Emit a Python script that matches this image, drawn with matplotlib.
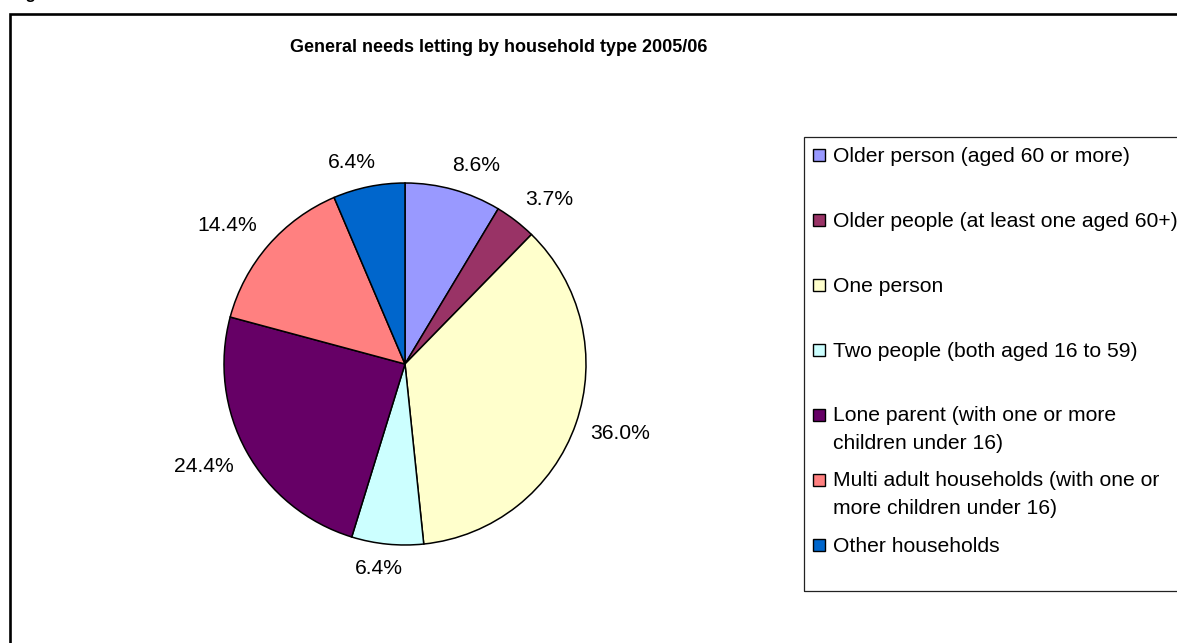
import numpy as np
import matplotlib.pyplot as plt
from matplotlib.patches import Rectangle

plt.rcParams["font.family"] = ["Liberation Sans", "DejaVu Sans"]

# --- DATA ---
TITLE = "General needs letting by household type 2005/06"
CATEGORIES = [
    "Older person (aged 60 or more)",
    "Older people (at least one aged 60+)",
    "One person",
    "Two people (both aged 16 to 59)",
    "Lone parent (with one or more\nchildren under 16)",
    "Multi adult households (with one or\nmore children under 16)",
    "Other households",
]
SHARES = [8.6, 3.7, 36.0, 6.4, 24.4, 14.4, 6.4]
COLORS = ['#9999FF', '#993366', '#FFFFCC', '#CCFFFF', '#660066', '#FF8080', '#0066CC']

# --- LAYOUT (pixels) ---
W, H = 1177, 643
CX, CY, R = 405, 364, 181      # pie centre and radius
HALF = 260                     # half size of the pie axes box
GAP = 15                       # gap between pie edge and label anchor
FS = 15.2                      # label / legend font size
LINE_STEP = 27                 # legend line step for wrapped entries


def fx(px):
    return px / W


def fy(py):
    return 1 - py / H


fig = plt.figure(figsize=(W / 100, H / 100), dpi=100)

# Outer chart frame (runs off the right and bottom edges)
fig.add_artist(Rectangle((fx(10), fy(900)), (2000 - 10) / W, (900 - 14) / H,
                         transform=fig.transFigure, fill=False,
                         edgecolor='black', linewidth=1.9))

# Cut-off caption above the frame
fig.text(fx(12), fy(-0.5), "Figure", fontsize=12, fontweight='bold', va='baseline')

# Title
fig.text(fx(499), fy(52.5), TITLE, ha='center', va='baseline', fontsize=13, fontweight='bold')

# Pie
ax = fig.add_axes([fx(CX - HALF), fy(CY + HALF), 2 * HALF / W, 2 * HALF / H])
wedges, _ = ax.pie(SHARES, colors=COLORS, startangle=90, counterclock=False,
                   radius=1, wedgeprops=dict(edgecolor='black', linewidth=1.1))
ax.set_xlim(-HALF / R, HALF / R)
ax.set_ylim(-HALF / R, HALF / R)
ax.set_aspect('equal')
ax.axis('off')

# Percentage labels outside the pie, hooked on by their nearest corner
fig.canvas.draw()
renderer = fig.canvas.get_renderer()
for w, val in zip(wedges, SHARES):
    ang = np.deg2rad((w.theta1 + w.theta2) / 2)
    c, s = np.cos(ang), np.sin(ang)
    t = ax.text(0, 0, f"{val:.1f}%", ha='center', va='center', fontsize=FS)
    bb = t.get_window_extent(renderer)
    px = (R + GAP) * c + bb.width / 2 * np.clip(c / 0.35, -1, 1)
    py = (R + GAP) * s + bb.height / 2 * np.clip(s / 0.6, -1, 1)
    t.set_position((px / R, py / R))

# Legend box (runs off the right edge)
fig.add_artist(Rectangle((fx(804), fy(591)), (1400 - 804) / W, (591 - 137) / H,
                         transform=fig.transFigure, fill=False,
                         edgecolor='#222222', linewidth=0.9))
for i, (lab, col) in enumerate(zip(CATEGORIES, COLORS)):
    yc = 155 + 65 * i
    n_extra = lab.count("\n")
    fig.add_artist(Rectangle((fx(813), fy(yc + 6)), 12 / W, 12 / H,
                             transform=fig.transFigure, facecolor=col,
                             edgecolor='black', linewidth=1.0))
    fig.text(fx(833), fy(yc + 7 + LINE_STEP * n_extra), lab, va='baseline', ha='left',
             fontsize=FS, linespacing=1.58)

fig.savefig("out.png", dpi=100)
